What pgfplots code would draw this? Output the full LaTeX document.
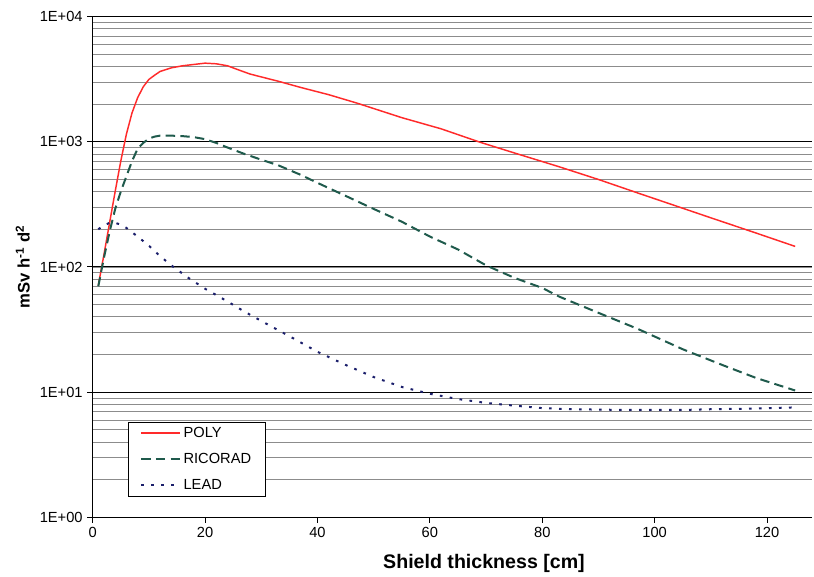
\documentclass[border=0pt]{standalone}
\usepackage{fontspec}
\setmainfont{Liberation Sans}
\usepackage{pgfplots}
\pgfplotsset{compat=1.18}
\definecolor{polyred}{HTML}{FF2A2A}
\definecolor{ricogreen}{HTML}{1F5A4C}
\definecolor{leadblue}{HTML}{1B1F6B}
\begin{document}
\begin{tikzpicture}
\begin{axis}[
  scale only axis, width=539.5pt, height=375.45pt,
  xmin=0, xmax=128, ymode=log, ymin=1, ymax=10000,
  axis x line=bottom, axis y line=left,
  axis line style={-, line width=0.8pt},
  xtick={0,20,...,120},
  ytick={1,10,100,1000,10000},
  yticklabels={1E+00,1E+01,1E+02,1E+03,1E+04},
  tick align=outside, major tick length=4pt, minor tick length=0pt,
  tick style={black, line width=0.8pt},
  ymajorgrids, yminorgrids,
  major grid style={black, line width=0.8pt},
  minor grid style={black!45, line width=0.5pt},
  /pgf/number format/assume math mode=true,
  tick label style={font=\fontsize{11}{13}\selectfont},
  xlabel={\bfseries Shield thickness [cm]},
  ylabel={\bfseries mSv h\textsuperscript{-1} d\textsuperscript{2}},
  xlabel style={font=\fontsize{14.7}{16}\selectfont, at={(axis description cs:0.544,0)}, anchor=center, yshift=-34.5pt},
  ylabel style={font=\fontsize{12.5}{14}\selectfont, at={(axis description cs:-0.0973,0.5)}, anchor=center},
  legend style={at={(axis description cs:0.0487,0.191)}, anchor=north west,
    draw=black, line width=0.8pt, font=\fontsize{11}{13}\selectfont,
    row sep=6.5pt, inner xsep=9pt, inner ysep=1.5pt},
  legend cell align=left,
  legend image code/.code={\draw[#1] (0pt,0pt) -- (29pt,0pt);},
]
\coordinate (bl) at (rel axis cs:0,0);
\coordinate (tr) at (rel axis cs:1,1);
\addplot[polyred, line width=1.1pt] coordinates {
(1,71)(2,125)(3,224)(4,400)(5,700)(6,1150)(7,1700)(8,2250)(9,2750)(10,3150)
(11,3400)(12,3650)(14,3900)(16,4050)(18,4150)(20,4250)(22,4200)(24,4050)
(26,3750)(28,3480)(30,3300)(33,3050)(37,2720)(42,2380)(47,2040)(55,1560)
(62,1270)(69,990)(76,790)(83,632)(90,500)(97,390)(103,316)(110,247)(118,187)(125,146)
};
\addlegendentry{POLY}
\addplot[ricogreen, line width=1.5pt, dash pattern=on 7pt off 4pt] coordinates {
(1,70)(2,118)(3,190)(4,290)(5,400)(6,530)(7,700)(8,880)(9,980)(10,1060)
(11,1100)(12,1120)(14,1120)(16,1110)(18,1090)(20,1050)(22,980)(24,900)
(27,800)(30,720)(33,650)(37,545)(40,470)(45,370)(49,305)(55,230)(60,175)
(65,138)(70,103)(75,82)(80,68)(83,58)(90,43)(97,32)(105,22)(112,16.5)(118,13)(125,10.3)
};
\addlegendentry{RICORAD}
\addplot[leadblue, line width=1.5pt, dash pattern=on 2pt off 5.5pt] coordinates {
(1,200)(2,215)(3,225)(4,225)(5,218)(6,205)(8,175)(10,148)(12,122)(14,103)
(17,82)(20,67)(24,53)(27,44)(31,35)(35,28)(40,21)(45,16.5)(50,13.2)(55,11)
(60,9.7)(65,8.8)(70,8.2)(75,7.8)(80,7.45)(85,7.3)(90,7.25)(95,7.2)(100,7.2)
(105,7.2)(110,7.3)(115,7.35)(120,7.45)(125,7.55)
};
\addlegendentry{LEAD}
\end{axis}
\pgfresetboundingbox
\path[use as bounding box] ([xshift=-69.5pt,yshift=-44.8pt]bl) rectangle ([xshift=1.5pt,yshift=12.5pt]tr);
\end{tikzpicture}
\end{document}
